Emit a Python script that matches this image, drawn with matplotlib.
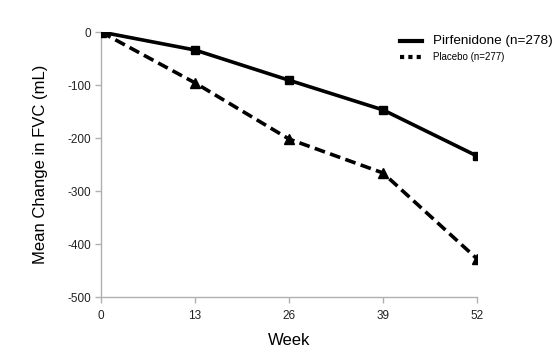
import matplotlib
matplotlib.use("Agg")
import matplotlib.pyplot as plt
from matplotlib.lines import Line2D

plt.rcParams['font.family'] = ['Liberation Sans', 'DejaVu Sans']

weeks = [0, 13, 26, 39, 52]
pirfenidone = [0, -34, -91, -147, -234]
placebo = [0, -96, -202, -266, -428]
x_ticks = [0, 13, 26, 39, 52]
y_ticks = [0, -100, -200, -300, -400, -500]
labels = ["Pirfenidone (n=278)", "Placebo (n=277)"]

axis_grey = "#b0b0b0"

fig = plt.figure(figsize=(5.56, 3.54), dpi=100)
ax = fig.add_axes([0.1817, 0.161, 0.6763, 0.7486])

ax.plot(weeks, pirfenidone, color="black", lw=2.6, marker="s", ms=6, zorder=3)
ax.plot(weeks, placebo, color="black", lw=2.6, ls=(0, (3.0, 1.5)), marker="^", ms=6.5, zorder=3)

ax.set_xlim(0, 52)
ax.set_ylim(-500, 0)
ax.set_xticks(x_ticks)
ax.set_yticks(y_ticks)
ax.set_xticklabels([str(t) for t in x_ticks])
ax.set_yticklabels([str(t) for t in y_ticks])

for side in ["top", "right"]:
    ax.spines[side].set_visible(False)
for side in ["left", "bottom"]:
    ax.spines[side].set_color(axis_grey)
    ax.spines[side].set_linewidth(1.0)
ax.tick_params(axis="both", colors=axis_grey, labelcolor="#222222", labelsize=8.5,
               length=4, width=1.0, direction="out")
ax.tick_params(axis="x", pad=5)
ax.tick_params(axis="y", pad=3)

ax.set_xlabel("Week", fontsize=12, labelpad=8)
ax.set_ylabel("Mean Change in FVC (mL)", fontsize=12, labelpad=14)

# legend drawn by hand (two different text sizes in the original)
fig.add_artist(Line2D([0.719, 0.759], [0.885, 0.885], color="black", lw=3,
                      transform=fig.transFigure))
fig.add_artist(Line2D([0.719, 0.759], [0.838, 0.838], color="black", lw=3,
                      ls=(0, (1, 1)), transform=fig.transFigure))
fig.text(0.779, 0.885, labels[0], fontsize=9.7, va="center", ha="left")
fig.text(0.779, 0.838, labels[1], fontsize=7, va="center", ha="left")

fig.savefig("out.png", dpi=100)
